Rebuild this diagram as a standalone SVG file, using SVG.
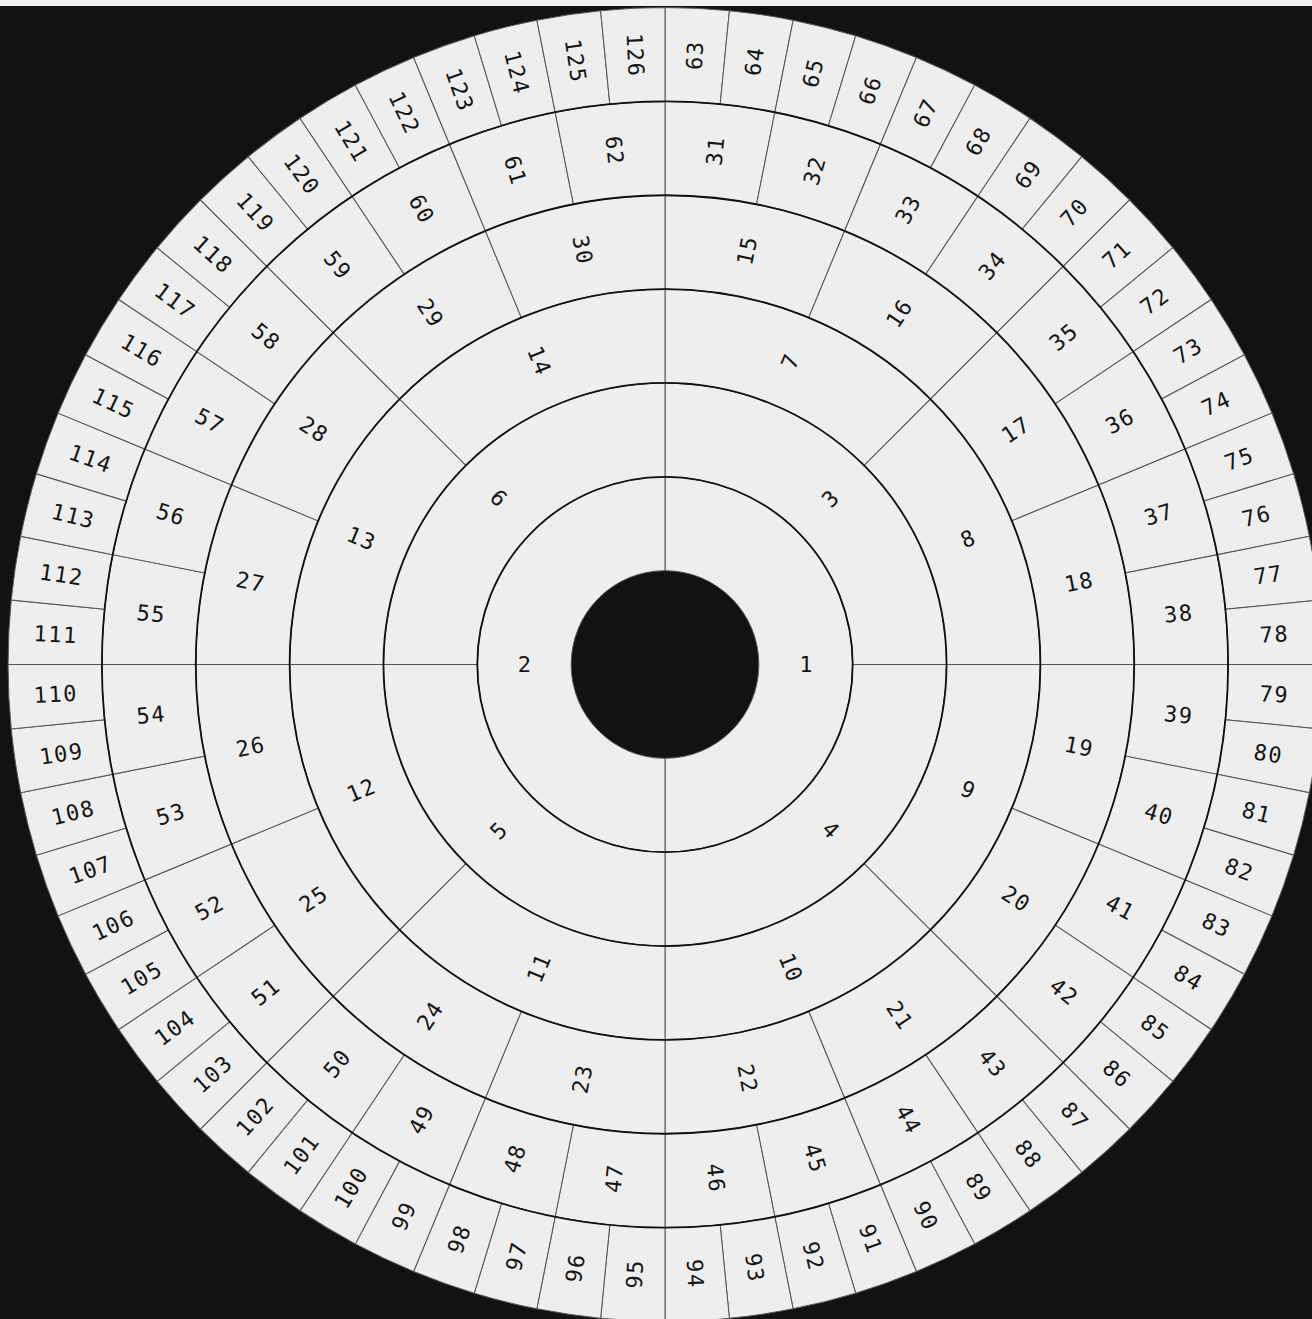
<svg xmlns="http://www.w3.org/2000/svg" width="1312" height="1319" viewBox="0 0 1312 1319">
<style>
.w{fill:#eeeeee;stroke:#555;stroke-width:1}
.t{font-family:"DejaVu Sans Mono",monospace;font-size:22px;letter-spacing:1.5px;text-anchor:middle;dominant-baseline:central;fill:#151515}
.c{fill:none;stroke:#111;stroke-width:1.8}
</style>
<defs>
<path id="w1" class="w" d="M0,-187.7 A187.7,187.7 0 0 1 0,187.7 L0,93.85 A93.85,93.85 0 0 0 0,-93.85Z"/>
<path id="w2" class="w" d="M0,-281.55 A281.55,281.55 0 0 1 281.55,0 L187.7,0 A187.7,187.7 0 0 0 0,-187.7Z"/>
<path id="w3" class="w" d="M0,-375.4 A375.4,375.4 0 0 1 265.45,-265.45 L199.09,-199.09 A281.55,281.55 0 0 0 0,-281.55Z"/>
<path id="w4" class="w" d="M0,-469.25 A469.25,469.25 0 0 1 179.57,-433.53 L143.66,-346.83 A375.4,375.4 0 0 0 0,-375.4Z"/>
<path id="w5" class="w" d="M0,-563.1 A563.1,563.1 0 0 1 109.86,-552.28 L91.55,-460.23 A469.25,469.25 0 0 0 0,-469.25Z"/>
<path id="w6" class="w" d="M0,-656.95 A656.95,656.95 0 0 1 64.39,-653.79 L55.19,-560.39 A563.1,563.1 0 0 0 0,-563.1Z"/>
</defs>
<rect x="0" y="0" width="1312" height="1319" fill="#121212"/>
<rect x="0" y="0" width="1312" height="6" fill="#f0f0f0"/>
<g transform="translate(665 664.5)">
<g id="ring1">
<g id="n1"><use href="#w1"/><text class="t" transform="rotate(0) translate(141.5)">1</text></g>
<g id="n2"><use href="#w1" transform="rotate(180)"/><text class="t" transform="rotate(0) translate(-140.0)">2</text></g>
</g>
<g id="ring2">
<g id="n3"><use href="#w2"/><text class="t" transform="rotate(-45) translate(234.63)">3</text></g>
<g id="n4"><use href="#w2" transform="rotate(90)"/><text class="t" transform="rotate(45) translate(234.63)">4</text></g>
<g id="n5"><use href="#w2" transform="rotate(180)"/><text class="t" transform="rotate(-45) translate(-234.63)">5</text></g>
<g id="n6"><use href="#w2" transform="rotate(270)"/><text class="t" transform="rotate(45) translate(-234.63)">6</text></g>
</g>
<g id="ring3">
<g id="n7"><use href="#w3"/><text class="t" transform="rotate(-67.5) translate(328.48)">7</text></g>
<g id="n8"><use href="#w3" transform="rotate(45)"/><text class="t" transform="rotate(-22.5) translate(328.48)">8</text></g>
<g id="n9"><use href="#w3" transform="rotate(90)"/><text class="t" transform="rotate(22.5) translate(328.48)">9</text></g>
<g id="n10"><use href="#w3" transform="rotate(135)"/><text class="t" transform="rotate(67.5) translate(328.48)">10</text></g>
<g id="n11"><use href="#w3" transform="rotate(180)"/><text class="t" transform="rotate(-67.5) translate(-328.48)">11</text></g>
<g id="n12"><use href="#w3" transform="rotate(225)"/><text class="t" transform="rotate(-22.5) translate(-328.48)">12</text></g>
<g id="n13"><use href="#w3" transform="rotate(270)"/><text class="t" transform="rotate(22.5) translate(-328.48)">13</text></g>
<g id="n14"><use href="#w3" transform="rotate(315)"/><text class="t" transform="rotate(67.5) translate(-328.48)">14</text></g>
</g>
<g id="ring4">
<g id="n15"><use href="#w4"/><text class="t" transform="rotate(-78.75) translate(422.33)">15</text></g>
<g id="n16"><use href="#w4" transform="rotate(22.5)"/><text class="t" transform="rotate(-56.25) translate(422.33)">16</text></g>
<g id="n17"><use href="#w4" transform="rotate(45)"/><text class="t" transform="rotate(-33.75) translate(422.33)">17</text></g>
<g id="n18"><use href="#w4" transform="rotate(67.5)"/><text class="t" transform="rotate(-11.25) translate(422.33)">18</text></g>
<g id="n19"><use href="#w4" transform="rotate(90)"/><text class="t" transform="rotate(11.25) translate(422.33)">19</text></g>
<g id="n20"><use href="#w4" transform="rotate(112.5)"/><text class="t" transform="rotate(33.75) translate(422.33)">20</text></g>
<g id="n21"><use href="#w4" transform="rotate(135)"/><text class="t" transform="rotate(56.25) translate(422.33)">21</text></g>
<g id="n22"><use href="#w4" transform="rotate(157.5)"/><text class="t" transform="rotate(78.75) translate(422.33)">22</text></g>
<g id="n23"><use href="#w4" transform="rotate(180)"/><text class="t" transform="rotate(-78.75) translate(-422.33)">23</text></g>
<g id="n24"><use href="#w4" transform="rotate(202.5)"/><text class="t" transform="rotate(-56.25) translate(-422.33)">24</text></g>
<g id="n25"><use href="#w4" transform="rotate(225)"/><text class="t" transform="rotate(-33.75) translate(-422.33)">25</text></g>
<g id="n26"><use href="#w4" transform="rotate(247.5)"/><text class="t" transform="rotate(-11.25) translate(-422.33)">26</text></g>
<g id="n27"><use href="#w4" transform="rotate(270)"/><text class="t" transform="rotate(11.25) translate(-422.33)">27</text></g>
<g id="n28"><use href="#w4" transform="rotate(292.5)"/><text class="t" transform="rotate(33.75) translate(-422.33)">28</text></g>
<g id="n29"><use href="#w4" transform="rotate(315)"/><text class="t" transform="rotate(56.25) translate(-422.33)">29</text></g>
<g id="n30"><use href="#w4" transform="rotate(337.5)"/><text class="t" transform="rotate(78.75) translate(-422.33)">30</text></g>
</g>
<g id="ring5">
<g id="n31"><use href="#w5"/><text class="t" transform="rotate(-84.375) translate(516.18)">31</text></g>
<g id="n32"><use href="#w5" transform="rotate(11.25)"/><text class="t" transform="rotate(-73.125) translate(516.18)">32</text></g>
<g id="n33"><use href="#w5" transform="rotate(22.5)"/><text class="t" transform="rotate(-61.875) translate(516.18)">33</text></g>
<g id="n34"><use href="#w5" transform="rotate(33.75)"/><text class="t" transform="rotate(-50.625) translate(516.18)">34</text></g>
<g id="n35"><use href="#w5" transform="rotate(45)"/><text class="t" transform="rotate(-39.375) translate(516.18)">35</text></g>
<g id="n36"><use href="#w5" transform="rotate(56.25)"/><text class="t" transform="rotate(-28.125) translate(516.18)">36</text></g>
<g id="n37"><use href="#w5" transform="rotate(67.5)"/><text class="t" transform="rotate(-16.875) translate(516.18)">37</text></g>
<g id="n38"><use href="#w5" transform="rotate(78.75)"/><text class="t" transform="rotate(-5.625) translate(516.18)">38</text></g>
<g id="n39"><use href="#w5" transform="rotate(90)"/><text class="t" transform="rotate(5.625) translate(516.18)">39</text></g>
<g id="n40"><use href="#w5" transform="rotate(101.25)"/><text class="t" transform="rotate(16.875) translate(516.18)">40</text></g>
<g id="n41"><use href="#w5" transform="rotate(112.5)"/><text class="t" transform="rotate(28.125) translate(516.18)">41</text></g>
<g id="n42"><use href="#w5" transform="rotate(123.75)"/><text class="t" transform="rotate(39.375) translate(516.18)">42</text></g>
<g id="n43"><use href="#w5" transform="rotate(135)"/><text class="t" transform="rotate(50.625) translate(516.18)">43</text></g>
<g id="n44"><use href="#w5" transform="rotate(146.25)"/><text class="t" transform="rotate(61.875) translate(516.18)">44</text></g>
<g id="n45"><use href="#w5" transform="rotate(157.5)"/><text class="t" transform="rotate(73.125) translate(516.18)">45</text></g>
<g id="n46"><use href="#w5" transform="rotate(168.75)"/><text class="t" transform="rotate(84.375) translate(516.18)">46</text></g>
<g id="n47"><use href="#w5" transform="rotate(180)"/><text class="t" transform="rotate(-84.375) translate(-516.18)">47</text></g>
<g id="n48"><use href="#w5" transform="rotate(191.25)"/><text class="t" transform="rotate(-73.125) translate(-516.18)">48</text></g>
<g id="n49"><use href="#w5" transform="rotate(202.5)"/><text class="t" transform="rotate(-61.875) translate(-516.18)">49</text></g>
<g id="n50"><use href="#w5" transform="rotate(213.75)"/><text class="t" transform="rotate(-50.625) translate(-516.18)">50</text></g>
<g id="n51"><use href="#w5" transform="rotate(225)"/><text class="t" transform="rotate(-39.375) translate(-516.18)">51</text></g>
<g id="n52"><use href="#w5" transform="rotate(236.25)"/><text class="t" transform="rotate(-28.125) translate(-516.18)">52</text></g>
<g id="n53"><use href="#w5" transform="rotate(247.5)"/><text class="t" transform="rotate(-16.875) translate(-516.18)">53</text></g>
<g id="n54"><use href="#w5" transform="rotate(258.75)"/><text class="t" transform="rotate(-5.625) translate(-516.18)">54</text></g>
<g id="n55"><use href="#w5" transform="rotate(270)"/><text class="t" transform="rotate(5.625) translate(-516.18)">55</text></g>
<g id="n56"><use href="#w5" transform="rotate(281.25)"/><text class="t" transform="rotate(16.875) translate(-516.18)">56</text></g>
<g id="n57"><use href="#w5" transform="rotate(292.5)"/><text class="t" transform="rotate(28.125) translate(-516.18)">57</text></g>
<g id="n58"><use href="#w5" transform="rotate(303.75)"/><text class="t" transform="rotate(39.375) translate(-516.18)">58</text></g>
<g id="n59"><use href="#w5" transform="rotate(315)"/><text class="t" transform="rotate(50.625) translate(-516.18)">59</text></g>
<g id="n60"><use href="#w5" transform="rotate(326.25)"/><text class="t" transform="rotate(61.875) translate(-516.18)">60</text></g>
<g id="n61"><use href="#w5" transform="rotate(337.5)"/><text class="t" transform="rotate(73.125) translate(-516.18)">61</text></g>
<g id="n62"><use href="#w5" transform="rotate(348.75)"/><text class="t" transform="rotate(84.375) translate(-516.18)">62</text></g>
</g>
<g id="ring6">
<g id="n63"><use href="#w6"/><text class="t" transform="rotate(-87.1875) translate(610.03)">63</text></g>
<g id="n64"><use href="#w6" transform="rotate(5.625)"/><text class="t" transform="rotate(-81.5625) translate(610.03)">64</text></g>
<g id="n65"><use href="#w6" transform="rotate(11.25)"/><text class="t" transform="rotate(-75.9375) translate(610.03)">65</text></g>
<g id="n66"><use href="#w6" transform="rotate(16.875)"/><text class="t" transform="rotate(-70.3125) translate(610.03)">66</text></g>
<g id="n67"><use href="#w6" transform="rotate(22.5)"/><text class="t" transform="rotate(-64.6875) translate(610.03)">67</text></g>
<g id="n68"><use href="#w6" transform="rotate(28.125)"/><text class="t" transform="rotate(-59.0625) translate(610.03)">68</text></g>
<g id="n69"><use href="#w6" transform="rotate(33.75)"/><text class="t" transform="rotate(-53.4375) translate(610.03)">69</text></g>
<g id="n70"><use href="#w6" transform="rotate(39.375)"/><text class="t" transform="rotate(-47.8125) translate(610.03)">70</text></g>
<g id="n71"><use href="#w6" transform="rotate(45)"/><text class="t" transform="rotate(-42.1875) translate(610.03)">71</text></g>
<g id="n72"><use href="#w6" transform="rotate(50.625)"/><text class="t" transform="rotate(-36.5625) translate(610.03)">72</text></g>
<g id="n73"><use href="#w6" transform="rotate(56.25)"/><text class="t" transform="rotate(-30.9375) translate(610.03)">73</text></g>
<g id="n74"><use href="#w6" transform="rotate(61.875)"/><text class="t" transform="rotate(-25.3125) translate(610.03)">74</text></g>
<g id="n75"><use href="#w6" transform="rotate(67.5)"/><text class="t" transform="rotate(-19.6875) translate(610.03)">75</text></g>
<g id="n76"><use href="#w6" transform="rotate(73.125)"/><text class="t" transform="rotate(-14.0625) translate(610.03)">76</text></g>
<g id="n77"><use href="#w6" transform="rotate(78.75)"/><text class="t" transform="rotate(-8.4375) translate(610.03)">77</text></g>
<g id="n78"><use href="#w6" transform="rotate(84.375)"/><text class="t" transform="rotate(-2.8125) translate(610.03)">78</text></g>
<g id="n79"><use href="#w6" transform="rotate(90)"/><text class="t" transform="rotate(2.8125) translate(610.03)">79</text></g>
<g id="n80"><use href="#w6" transform="rotate(95.625)"/><text class="t" transform="rotate(8.4375) translate(610.03)">80</text></g>
<g id="n81"><use href="#w6" transform="rotate(101.25)"/><text class="t" transform="rotate(14.0625) translate(610.03)">81</text></g>
<g id="n82"><use href="#w6" transform="rotate(106.875)"/><text class="t" transform="rotate(19.6875) translate(610.03)">82</text></g>
<g id="n83"><use href="#w6" transform="rotate(112.5)"/><text class="t" transform="rotate(25.3125) translate(610.03)">83</text></g>
<g id="n84"><use href="#w6" transform="rotate(118.125)"/><text class="t" transform="rotate(30.9375) translate(610.03)">84</text></g>
<g id="n85"><use href="#w6" transform="rotate(123.75)"/><text class="t" transform="rotate(36.5625) translate(610.03)">85</text></g>
<g id="n86"><use href="#w6" transform="rotate(129.375)"/><text class="t" transform="rotate(42.1875) translate(610.03)">86</text></g>
<g id="n87"><use href="#w6" transform="rotate(135)"/><text class="t" transform="rotate(47.8125) translate(610.03)">87</text></g>
<g id="n88"><use href="#w6" transform="rotate(140.625)"/><text class="t" transform="rotate(53.4375) translate(610.03)">88</text></g>
<g id="n89"><use href="#w6" transform="rotate(146.25)"/><text class="t" transform="rotate(59.0625) translate(610.03)">89</text></g>
<g id="n90"><use href="#w6" transform="rotate(151.875)"/><text class="t" transform="rotate(64.6875) translate(610.03)">90</text></g>
<g id="n91"><use href="#w6" transform="rotate(157.5)"/><text class="t" transform="rotate(70.3125) translate(610.03)">91</text></g>
<g id="n92"><use href="#w6" transform="rotate(163.125)"/><text class="t" transform="rotate(75.9375) translate(610.03)">92</text></g>
<g id="n93"><use href="#w6" transform="rotate(168.75)"/><text class="t" transform="rotate(81.5625) translate(610.03)">93</text></g>
<g id="n94"><use href="#w6" transform="rotate(174.375)"/><text class="t" transform="rotate(87.1875) translate(610.03)">94</text></g>
<g id="n95"><use href="#w6" transform="rotate(180)"/><text class="t" transform="rotate(-87.1875) translate(-610.03)">95</text></g>
<g id="n96"><use href="#w6" transform="rotate(185.625)"/><text class="t" transform="rotate(-81.5625) translate(-610.03)">96</text></g>
<g id="n97"><use href="#w6" transform="rotate(191.25)"/><text class="t" transform="rotate(-75.9375) translate(-610.03)">97</text></g>
<g id="n98"><use href="#w6" transform="rotate(196.875)"/><text class="t" transform="rotate(-70.3125) translate(-610.03)">98</text></g>
<g id="n99"><use href="#w6" transform="rotate(202.5)"/><text class="t" transform="rotate(-64.6875) translate(-610.03)">99</text></g>
<g id="n100"><use href="#w6" transform="rotate(208.125)"/><text class="t" transform="rotate(-59.0625) translate(-610.03)">100</text></g>
<g id="n101"><use href="#w6" transform="rotate(213.75)"/><text class="t" transform="rotate(-53.4375) translate(-610.03)">101</text></g>
<g id="n102"><use href="#w6" transform="rotate(219.375)"/><text class="t" transform="rotate(-47.8125) translate(-610.03)">102</text></g>
<g id="n103"><use href="#w6" transform="rotate(225)"/><text class="t" transform="rotate(-42.1875) translate(-610.03)">103</text></g>
<g id="n104"><use href="#w6" transform="rotate(230.625)"/><text class="t" transform="rotate(-36.5625) translate(-610.03)">104</text></g>
<g id="n105"><use href="#w6" transform="rotate(236.25)"/><text class="t" transform="rotate(-30.9375) translate(-610.03)">105</text></g>
<g id="n106"><use href="#w6" transform="rotate(241.875)"/><text class="t" transform="rotate(-25.3125) translate(-610.03)">106</text></g>
<g id="n107"><use href="#w6" transform="rotate(247.5)"/><text class="t" transform="rotate(-19.6875) translate(-610.03)">107</text></g>
<g id="n108"><use href="#w6" transform="rotate(253.125)"/><text class="t" transform="rotate(-14.0625) translate(-610.03)">108</text></g>
<g id="n109"><use href="#w6" transform="rotate(258.75)"/><text class="t" transform="rotate(-8.4375) translate(-610.03)">109</text></g>
<g id="n110"><use href="#w6" transform="rotate(264.375)"/><text class="t" transform="rotate(-2.8125) translate(-610.03)">110</text></g>
<g id="n111"><use href="#w6" transform="rotate(270)"/><text class="t" transform="rotate(2.8125) translate(-610.03)">111</text></g>
<g id="n112"><use href="#w6" transform="rotate(275.625)"/><text class="t" transform="rotate(8.4375) translate(-610.03)">112</text></g>
<g id="n113"><use href="#w6" transform="rotate(281.25)"/><text class="t" transform="rotate(14.0625) translate(-610.03)">113</text></g>
<g id="n114"><use href="#w6" transform="rotate(286.875)"/><text class="t" transform="rotate(19.6875) translate(-610.03)">114</text></g>
<g id="n115"><use href="#w6" transform="rotate(292.5)"/><text class="t" transform="rotate(25.3125) translate(-610.03)">115</text></g>
<g id="n116"><use href="#w6" transform="rotate(298.125)"/><text class="t" transform="rotate(30.9375) translate(-610.03)">116</text></g>
<g id="n117"><use href="#w6" transform="rotate(303.75)"/><text class="t" transform="rotate(36.5625) translate(-610.03)">117</text></g>
<g id="n118"><use href="#w6" transform="rotate(309.375)"/><text class="t" transform="rotate(42.1875) translate(-610.03)">118</text></g>
<g id="n119"><use href="#w6" transform="rotate(315)"/><text class="t" transform="rotate(47.8125) translate(-610.03)">119</text></g>
<g id="n120"><use href="#w6" transform="rotate(320.625)"/><text class="t" transform="rotate(53.4375) translate(-610.03)">120</text></g>
<g id="n121"><use href="#w6" transform="rotate(326.25)"/><text class="t" transform="rotate(59.0625) translate(-610.03)">121</text></g>
<g id="n122"><use href="#w6" transform="rotate(331.875)"/><text class="t" transform="rotate(64.6875) translate(-610.03)">122</text></g>
<g id="n123"><use href="#w6" transform="rotate(337.5)"/><text class="t" transform="rotate(70.3125) translate(-610.03)">123</text></g>
<g id="n124"><use href="#w6" transform="rotate(343.125)"/><text class="t" transform="rotate(75.9375) translate(-610.03)">124</text></g>
<g id="n125"><use href="#w6" transform="rotate(348.75)"/><text class="t" transform="rotate(81.5625) translate(-610.03)">125</text></g>
<g id="n126"><use href="#w6" transform="rotate(354.375)"/><text class="t" transform="rotate(87.1875) translate(-610.03)">126</text></g>
</g>
<g id="connectors">
<circle class="c" r="187.7"/>
<circle class="c" r="281.55"/>
<circle class="c" r="375.4"/>
<circle class="c" r="469.25"/>
<circle class="c" r="563.1"/>
</g>
</g>
</svg>
